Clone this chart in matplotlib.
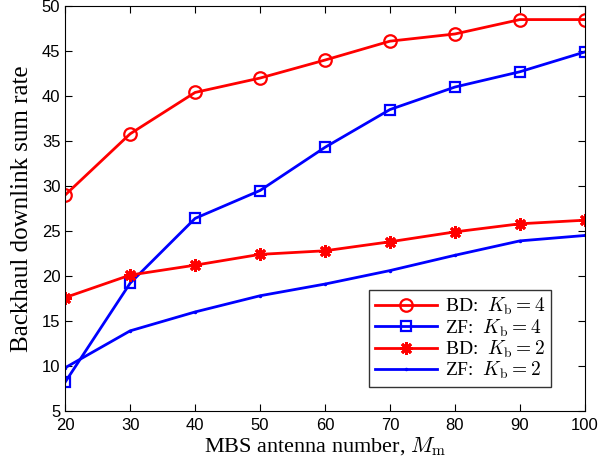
import numpy as np
import matplotlib.pyplot as plt

plt.rcParams['mathtext.fontset'] = 'cm'

antennas = [20, 30, 40, 50, 60, 70, 80, 90, 100]
bd_k4 = [29.0, 35.8, 40.4, 42.0, 44.0, 46.1, 46.9, 48.5, 48.5]
zf_k4 = [8.2, 19.2, 26.4, 29.5, 34.3, 38.5, 41.0, 42.7, 44.9]
bd_k2 = [17.6, 20.1, 21.2, 22.4, 22.8, 23.8, 24.9, 25.8, 26.2]
zf_k2 = [9.8, 13.9, 16.0, 17.8, 19.1, 20.6, 22.3, 23.9, 24.5]

fig = plt.figure(figsize=(5.98, 4.68), dpi=100)
ax = fig.add_axes([0.109, 0.122, 0.869, 0.865])

ax.plot(antennas, bd_k4, 'r-o', lw=2, ms=9, mfc='none', mew=1.6, label=r'BD:  $K_{\rm b}=4$')
ax.plot(antennas, zf_k4, 'b-s', lw=2, ms=7, mfc='none', mew=1.6, label=r'ZF:  $K_{\rm b}=4$')
ax.plot(antennas, bd_k2, 'r-', marker=(8, 2, 0), lw=2, ms=9, mew=2, label=r'BD:  $K_{\rm b}=2$')
ax.plot(antennas, zf_k2, 'b.-', lw=2, ms=3, label=r'ZF:  $K_{\rm b}=2$')

ax.set_xlim(20, 100)
ax.set_ylim(5, 50)
ax.set_xticks(np.arange(20, 101, 10))
ax.set_yticks(np.arange(5, 51, 5))
ax.tick_params(direction='in', top=True, right=True, length=5, labelsize=12)
ax.tick_params(axis='x', pad=5)
for lab in ax.get_xticklabels() + ax.get_yticklabels():
    lab.set_family('Liberation Sans')

ax.set_xlabel(r'MBS antenna number, $M_{\rm m}$', family='Liberation Serif', fontsize=16, labelpad=2)
ax.set_ylabel('Backhaul downlink sum rate', family='Liberation Serif', fontsize=18, labelpad=6)

leg = ax.legend(loc='lower right', bbox_to_anchor=(0.935, 0.059), borderaxespad=0, fancybox=False,
                edgecolor='black', prop={'family': 'Liberation Serif', 'size': 14}, handlelength=3.2,
                borderpad=0.3, labelspacing=0.0, handletextpad=0.4)
leg.get_frame().set_linewidth(1.0)

fig.savefig('out.png')
